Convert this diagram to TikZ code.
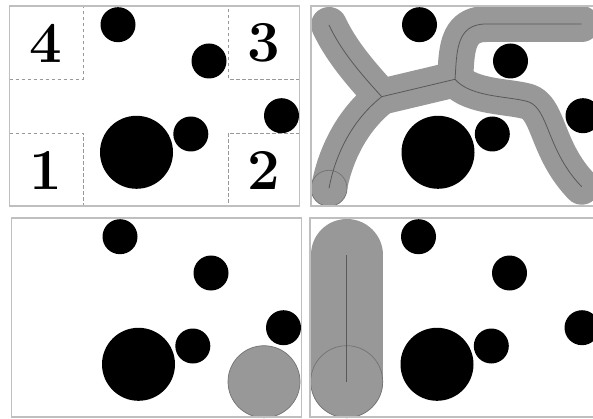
\documentclass[tikz,border=0pt]{standalone}
\definecolor{sweptgray}{RGB}{152,152,152}
\newcommand{\drawobstacles}{%
  \fill[obst] (108.5,18.7) circle (17.5);
  \fill[obst] (199.5,55) circle (17.5);
  \fill[obst] (272,109.7) circle (17.5);
  \fill[obst] (127,146.3) circle (36.5);
  \fill[obst] (181.3,128) circle (17.5);
}
\begin{document}
\begin{tikzpicture}[x=1pt,y=-1pt,
  panel/.style={draw=black!25,line width=1.3pt},
  obst/.style={fill=black},
  region/.style={draw=black!40,line width=0.8pt,dash pattern=on 3.5pt off 2.5pt},
  swept/.style={draw=sweptgray,line width=36pt,line cap=round,line join=round},
  capsule/.style={draw=sweptgray,line width=72pt,line cap=round},
  cline/.style={draw=black!65,line width=0.8pt},
  robot/.style={fill=sweptgray,draw=black!55,line width=0.7pt},
  digit/.style={font=\fontsize{58}{58}\selectfont\bfseries,inner sep=0pt}]
\useasboundingbox (0,0) rectangle (593,419);
\clip (0,0) rectangle (593,419);

% ---------- top-left panel ----------
\begin{scope}[shift={(9.5,6)}]
  \fill[white] (0,0) rectangle (290,200);
  \drawobstacles
  \draw[region] (0,73) -| (73.5,0);
  \draw[region] (0,127) -| (73.5,200);
  \draw[region] (290,73) -| (218.5,0);
  \draw[region] (290,127) -| (218.5,200);
  \node[digit] (n4) at (36.7,37) {4};
  \node[digit] (n3) at (254,37) {3};
  \node[digit] (n1) at (36.7,164) {1};
  \node[digit] (n2) at (254,164) {2};
  \draw[panel] (0,0) rectangle (290,200);
\end{scope}

% ---------- top-right panel ----------
\begin{scope}[shift={(311,6)}]
  \fill[white] (0,0) rectangle (290,200);
  \drawobstacles
  \coordinate (S) at (18,182.3);
  \coordinate (J1) at (70.7,90.7);
  \coordinate (T) at (18,19);
  \coordinate (J2) at (144,73.3);
  \coordinate (E1) at (270.7,18);
  \coordinate (E2) at (270.7,180.7);
  \draw[swept] (S) .. controls (24,150) and (40,115) .. (J1);
  \draw[swept] (J1) .. controls (50,68) and (30,45) .. (T);
  \draw[swept] (J1) -- (J2);
  \draw[swept] (J2) .. controls (146,48) and (144,18) .. (175,18) -- (E1);
  \draw[swept] (J2) .. controls (160,92) and (200,90) .. (218,96)
         .. controls (238,104) and (236,145) .. (E2);
  \draw[robot] (S) circle (18);
  \draw[cline] (S) .. controls (24,150) and (40,115) .. (J1);
  \draw[cline] (J1) .. controls (50,68) and (30,45) .. (T);
  \draw[cline] (J1) -- (J2);
  \draw[cline] (J2) .. controls (146,48) and (144,18) .. (175,18) -- (E1);
  \draw[cline] (J2) .. controls (160,92) and (200,90) .. (218,96)
         .. controls (238,104) and (236,145) .. (E2);
  \draw[panel] (0,0) rectangle (290,200);
\end{scope}

% ---------- bottom-left panel ----------
\begin{scope}[shift={(11.5,218)}]
  \fill[white] (0,0) rectangle (290,199);
  \drawobstacles
  \draw[robot] (252.5,163.7) circle (36);
  \draw[panel] (0,0) rectangle (290,199);
\end{scope}

% ---------- bottom-right panel ----------
\begin{scope}[shift={(310,218)}]
  \fill[white] (0,0) rectangle (290,199);
  \drawobstacles
  \coordinate (P1) at (36.7,37);
  \coordinate (P2) at (36.7,163.7);
  \draw[capsule] (P1) -- (P2);
  \draw[robot] (P2) circle (36);
  \draw[cline] (P1) -- (P2);
  \draw[panel] (0,0) rectangle (290,199);
\end{scope}
\end{tikzpicture}
\end{document}
